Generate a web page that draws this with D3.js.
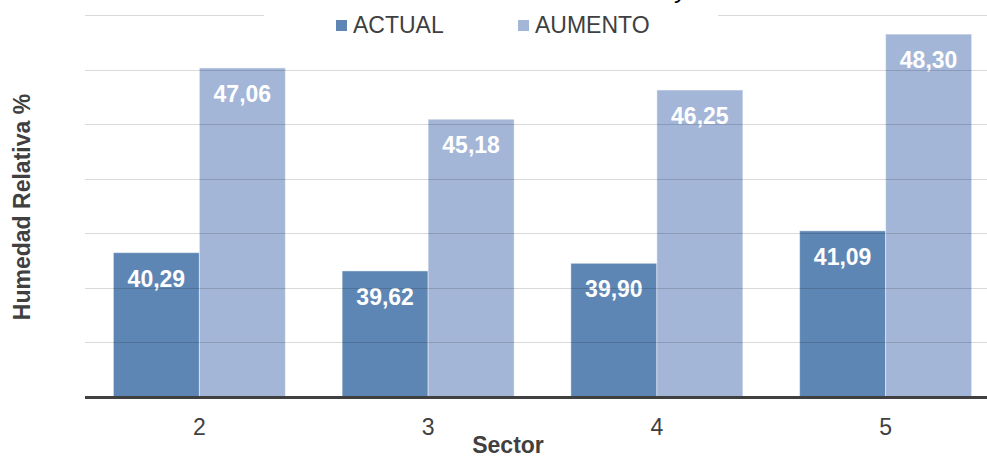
<!DOCTYPE html>
<html>
<head>
<meta charset="utf-8">
<script src="https://cdn.jsdelivr.net/npm/d3@7"></script>
<style>
  html, body { margin: 0; padding: 0; background: #fff; }
  svg { display: block; font-family: "Liberation Sans", Arial, sans-serif; }
</style>
</head>
<body>
<svg id="chart" width="987" height="459"></svg>
<script>
const sectors = ["2", "3", "4", "5"];
const seriesNames = ["ACTUAL", "AUMENTO"];
const actualValues = [40.29, 39.62, 39.90, 41.09];
const aumentoValues = [47.06, 45.18, 46.25, 48.30];
const yTicks = [37, 39, 41, 43, 45, 47, 49];
const colors = ["#5e86b4", "#a3b6d7"];

const svg = d3.select("#chart");
const W = 987, H = 459;
const margin = { left: 85, right: -13, top: 15, bottom: 62 };

const x0 = d3.scaleBand().domain(sectors).range([margin.left, W - margin.right]).paddingInner(0).paddingOuter(0);
const x1 = d3.scaleBand().domain(seriesNames).range([0, x0.bandwidth()]).paddingInner(0).paddingOuter(0.33);
const y = d3.scaleLinear().domain([35, 49]).range([H - margin.bottom, margin.top]);

const fmt = v => v.toFixed(2).replace(".", ",");
const seriesData = [actualValues, aumentoValues];

// bars
const groups = svg.append("g").selectAll("g").data(sectors).join("g")
  .attr("transform", d => `translate(${x0(d)},0)`);
groups.selectAll("rect").data((d, i) => seriesNames.map((s, j) => ({ s, j, v: seriesData[j][i] })))
  .join("rect")
  .attr("x", d => x1(d.s))
  .attr("y", d => y(d.v))
  .attr("width", x1.bandwidth())
  .attr("height", d => y(35) - y(d.v))
  .attr("fill", d => colors[d.j])
  .attr("stroke", "rgba(255,255,255,0.45)")
  .attr("stroke-width", 1);

// gridlines on top (semi-transparent)
svg.append("g").selectAll("line").data(yTicks).join("line")
  .attr("x1", margin.left).attr("x2", W)
  .attr("y1", d => Math.round(y(d)) + 0.5).attr("y2", d => Math.round(y(d)) + 0.5)
  .attr("stroke", "#000").attr("stroke-opacity", 0.15).attr("stroke-width", 1);

// data labels
groups.selectAll("text").data((d, i) => seriesNames.map((s, j) => ({ s, j, v: seriesData[j][i] })))
  .join("text")
  .attr("x", d => x1(d.s) + x1.bandwidth() / 2)
  .attr("y", d => y(d.v) + 34)
  .attr("text-anchor", "middle")
  .attr("fill", "#fff")
  .attr("font-weight", "bold")
  .attr("font-size", 23)
  .text(d => fmt(d.v));

// baseline / x axis
const xAxis = d3.axisBottom(x0).tickSize(0).tickPadding(0);
const ax = svg.append("g").attr("transform", `translate(0,${y(35)})`).call(xAxis);
ax.select(".domain").remove();
ax.selectAll("text").attr("font-size", 23).attr("fill", "#404040")
  .attr("font-family", "Liberation Sans, Arial, sans-serif").attr("dy", null).attr("y", 38);
svg.append("line").attr("x1", margin.left).attr("x2", W).attr("y1", y(35) + 0.5).attr("y2", y(35) + 0.5)
  .attr("stroke", "#404040").attr("stroke-width", 3);

// axis titles
svg.append("text").attr("x", 508).attr("y", 453).attr("text-anchor", "middle")
  .attr("font-weight", "bold").attr("font-size", 23).attr("fill", "#404040").text("Sector");
svg.append("text").attr("transform", "translate(30,207) rotate(-90)").attr("text-anchor", "middle")
  .attr("font-weight", "bold").attr("font-size", 23).attr("fill", "#404040").text("Humedad Relativa %");

// cut-off title remnant
svg.append("text").attr("x", 676).attr("y", -2).attr("font-style", "italic").attr("font-size", 23)
  .attr("fill", "#000").text("y");

// legend
svg.append("rect").attr("x", 264).attr("y", 5).attr("width", 454).attr("height", 36).attr("fill", "#fff");
const legendPos = [{ sq: 336, tx: 353 }, { sq: 518, tx: 535 }];
const lg = svg.append("g").selectAll("g").data(seriesNames).join("g");
lg.append("rect").attr("x", (d, i) => legendPos[i].sq).attr("y", 20).attr("width", 11).attr("height", 11)
  .attr("fill", (d, i) => colors[i]);
lg.append("text").attr("x", (d, i) => legendPos[i].tx).attr("y", 33).attr("font-size", 23)
  .attr("fill", "#404040").text(d => d);
</script>
</body>
</html>
